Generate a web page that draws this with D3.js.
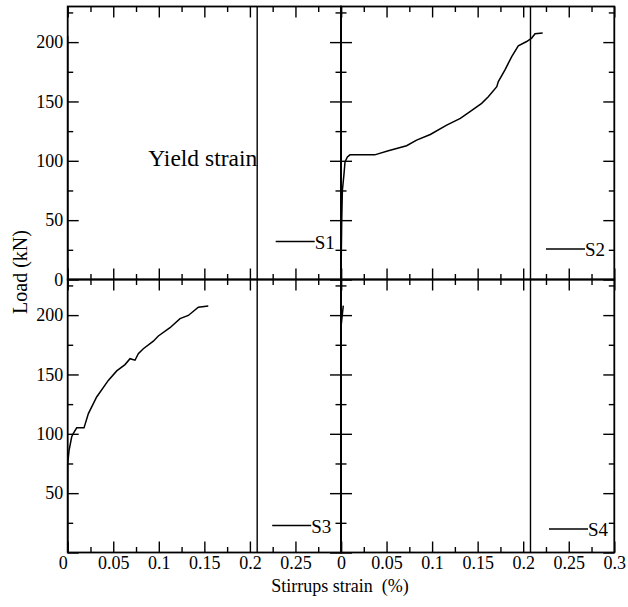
<!DOCTYPE html>
<html>
<head>
<meta charset="utf-8">
<script src="https://cdn.jsdelivr.net/npm/d3@7"></script>
<style>
  body { margin: 0; background: #fff; }
</style>
</head>
<body>
<svg id="chart" width="628" height="607"></svg>
<script>
// strain (%) , load (kN)
const s1 = [[0, 0], [0, 205]]
const s2 = [[0, 0], [0.0008, 50], [0.0015, 75], [0.0033, 89], [0.0044, 99], [0.007, 103.3], [0.0099, 105],
    [0.037, 105], [0.052, 108.4], [0.072, 112.7], [0.083, 117.4], [0.098, 122.2], [0.116, 130], [0.131, 135.7],
    [0.1416, 141.4], [0.1544, 148.4], [0.1617, 154], [0.171, 162.5], [0.1727, 166.7], [0.18, 176.6],
    [0.1874, 187.8], [0.1946, 196.9], [0.2038, 200.5], [0.2093, 203.4], [0.213, 207], [0.2214, 207.6]]
const s3 = [[0, 0], [0, 75], [0.0015, 86], [0.0044, 97.5], [0.0062, 100.3], [0.0099, 105], [0.0179, 105],
    [0.0227, 117], [0.0318, 131], [0.0446, 145], [0.0538, 153], [0.0629, 158.3], [0.0684, 163.3], [0.0739, 162],
    [0.0775, 167.5], [0.083, 171.7], [0.094, 178], [0.0995, 182.4], [0.1123, 189.4], [0.1233, 197],
    [0.1324, 199.7], [0.1434, 206.7], [0.1543, 207.6]]
const s4 = [[0, 0], [0, 190], [0.0025, 208]]

const seriesNames = ["S1", "S2", "S3", "S4"]
const yieldStrain = 0.208

const xMajor = [0, 0.05, 0.1, 0.15, 0.2, 0.25, 0.3]
const xMinor = [0.025, 0.075, 0.125, 0.175, 0.225, 0.275]
const yMajor = [0, 50, 100, 150, 200]
const yMinor = [25, 75, 125, 175, 225]
const xLabelsLeft = ["0", "0.05", "0.1", "0.15", "0.2", "0.25"]
const xLabelsRight = ["0", "0.05", "0.1", "0.15", "0.2", "0.25", "0.3"]
const yLabelsTop = ["0", "50", "100", "150", "200"]
const yLabelsBottom = ["50", "100", "150", "200"]

const serif = "'Liberation Serif', 'Times New Roman', serif"
const marginLeft = 67.7, marginTop = 6.5, pw = 273.3, ph = 273
const svg = d3.select("#chart")

const x = d3.scaleLinear().domain([0, 0.3]).range([0, pw])
const y = d3.scaleLinear().domain([0, 230]).range([ph, 0])
const line = d3.line().x(d => x(d[0])).y(d => y(d[1]))

const panels = [
    { data: s1, name: seriesNames[0], col: 0, row: 0, leg: [208, 235] },
    { data: s2, name: seriesNames[1], col: 1, row: 0, leg: [205, 242.5] },
    { data: s3, name: seriesNames[2], col: 0, row: 1, leg: [204.5, 246] },
    { data: s4, name: seriesNames[3], col: 1, row: 1, leg: [208, 249.5] },
]

panels.forEach(p => {
    let g = svg.append("g").attr("transform", `translate(${marginLeft + p.col * pw},${marginTop + p.row * ph})`)

    // frame
    g.append("rect").attr("width", pw).attr("height", ph)
        .attr("fill", "none").attr("stroke", "#000").attr("stroke-width", 1.8)

    // inward ticks on all four sides
    const tickAxes = [
        [d3.axisBottom(x), `translate(0,${ph})`, xMajor, xMinor],
        [d3.axisTop(x), "translate(0,0)", xMajor, xMinor],
        [d3.axisLeft(y), "translate(0,0)", yMajor, yMinor],
        [d3.axisRight(y), `translate(${pw},0)`, yMajor, yMinor],
    ]
    tickAxes.forEach(([ax, tr, maj, min]) => {
        g.append("g").attr("transform", tr)
            .call(ax.tickValues(maj).tickSize(-11).tickFormat(""))
            .call(s => s.select(".domain").remove())
        g.append("g").attr("transform", tr)
            .call(ax.tickValues(min).tickSize(-5.5).tickFormat(""))
            .call(s => s.select(".domain").remove())
    })
    g.selectAll(".tick line").attr("stroke", "#000").attr("stroke-width", 1.4)

    // yield line
    g.append("line")
        .attr("x1", x(yieldStrain)).attr("x2", x(yieldStrain))
        .attr("y1", 0).attr("y2", ph)
        .attr("stroke", "#000").attr("stroke-width", 1.4)

    // curve
    g.append("path").datum(p.data).attr("d", line)
        .attr("fill", "none").attr("stroke", "#000").attr("stroke-width", 1.5)

    // legend
    g.append("line").attr("x1", p.leg[0]).attr("x2", p.leg[0] + 39)
        .attr("y1", p.leg[1]).attr("y2", p.leg[1])
        .attr("stroke", "#000").attr("stroke-width", 1.4)
    g.append("text").attr("x", p.leg[0] + 39).attr("y", p.leg[1] + 7)
        .style("font-size", "19px").text(p.name)

    // labels
    if (p.col == 0) {
        let labs = p.row == 0 ? yLabelsTop : yLabelsBottom
        g.append("g")
            .call(d3.axisLeft(y).tickValues(labs.map(Number)).tickSize(0).tickPadding(4.5)
                .tickFormat((d, i) => labs[i]))
            .call(s => s.select(".domain").remove())
    }
    if (p.row == 1) {
        let labs = p.col == 0 ? xLabelsLeft : xLabelsRight
        let ax = g.append("g").attr("transform", `translate(0,${ph})`)
            .call(d3.axisBottom(x).tickValues(labs.map(Number)).tickSize(0).tickPadding(4)
                .tickFormat((d, i) => labs[i]))
            .call(s => s.select(".domain").remove())
        if (p.col == 0) ax.select(".tick text").attr("dx", -5)
    }
    if (p.col == 0 && p.row == 0) {
        g.append("text").attr("x", 80.5).attr("y", 159).style("font-size", "23.5px").text("Yield strain")
    }
})

svg.selectAll(".tick text").style("font-size", "18px")

svg.append("text").attr("x", 340).attr("y", 592).attr("text-anchor", "middle")
    .style("font-size", "18px").style("white-space", "pre").text("Stirrups strain  (%)")

svg.append("text").attr("transform", "translate(27,272) rotate(-90)").attr("text-anchor", "middle")
    .style("font-size", "20px").text("Load (kN)")

svg.selectAll("text").style("font-family", serif).attr("fill", "#000")
</script>
</body>
</html>
